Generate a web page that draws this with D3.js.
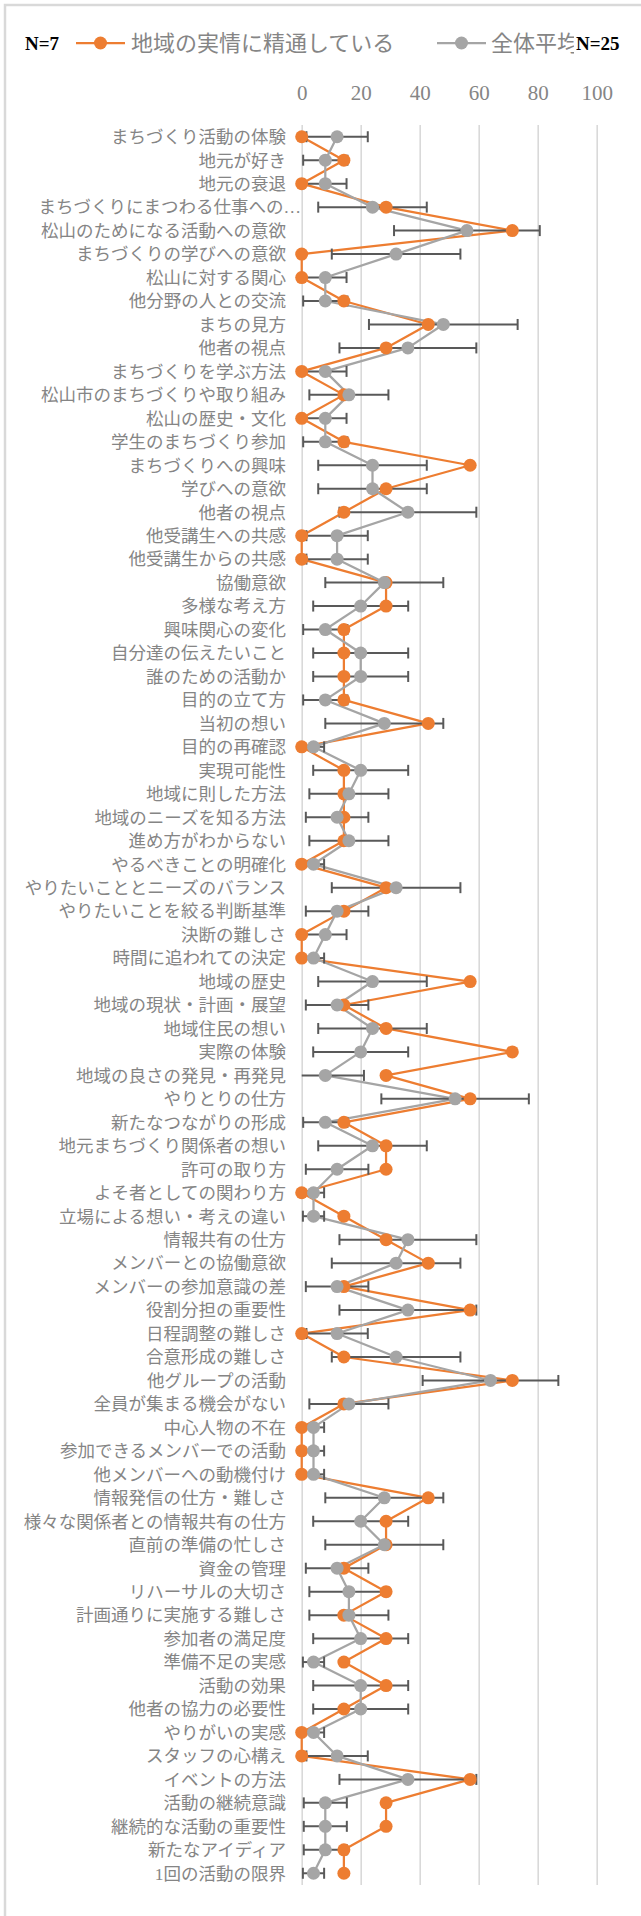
<!DOCTYPE html>
<html lang="ja">
<head>
<meta charset="utf-8">
<script src="https://cdn.jsdelivr.net/npm/d3@7/dist/d3.min.js"></script>
<style>
  body { margin: 0; background: #fff; }
  svg { display: block; }
</style>
</head>
<body>
<svg id="chart" width="641" height="1916"></svg>
<script>
const categories = [
  'まちづくり活動の体験', '地元が好き', '地元の衰退', 'まちづくりにまつわる仕事への…',
  '松山のためになる活動への意欲', 'まちづくりの学びへの意欲', '松山に対する関心', '他分野の人との交流',
  'まちの見方', '他者の視点', 'まちづくりを学ぶ方法', '松山市のまちづくりや取り組み',
  '松山の歴史・文化', '学生のまちづくり参加', 'まちづくりへの興味', '学びへの意欲',
  '他者の視点', '他受講生への共感', '他受講生からの共感', '協働意欲',
  '多様な考え方', '興味関心の変化', '自分達の伝えたいこと', '誰のための活動か',
  '目的の立て方', '当初の想い', '目的の再確認', '実現可能性',
  '地域に則した方法', '地域のニーズを知る方法', '進め方がわからない', 'やるべきことの明確化',
  'やりたいこととニーズのバランス', 'やりたいことを絞る判断基準', '決断の難しさ', '時間に追われての決定',
  '地域の歴史', '地域の現状・計画・展望', '地域住民の想い', '実際の体験',
  '地域の良さの発見・再発見', 'やりとりの仕方', '新たなつながりの形成', '地元まちづくり関係者の想い',
  '許可の取り方', 'よそ者としての関わり方', '立場による想い・考えの違い', '情報共有の仕方',
  'メンバーとの協働意欲', 'メンバーの参加意識の差', '役割分担の重要性', '日程調整の難しさ',
  '合意形成の難しさ', '他グループの活動', '全員が集まる機会がない', '中心人物の不在',
  '参加できるメンバーでの活動', '他メンバーへの動機付け', '情報発信の仕方・難しさ', '様々な関係者との情報共有の仕方',
  '直前の準備の忙しさ', '資金の管理', 'リハーサルの大切さ', '計画通りに実施する難しさ',
  '参加者の満足度', '準備不足の実感', '活動の効果', '他者の協力の必要性',
  'やりがいの実感', 'スタッフの心構え', 'イベントの方法', '活動の継続意識',
  '継続的な活動の重要性', '新たなアイディア', '1回の活動の限界',
];

// 地域の実情に精通している (N=7), percent
const localValues = [
  0, 14.3, 0, 28.6, 71.4, 0, 0, 14.3, 42.9, 28.6,
  0, 14.3, 0, 14.3, 57.1, 28.6, 14.3, 0, 0, 28.6,
  28.6, 14.3, 14.3, 14.3, 14.3, 42.9, 0, 14.3, 14.3, 14.3,
  14.3, 0, 28.6, 14.3, 0, 0, 57.1, 14.3, 28.6, 71.4,
  28.6, 57.1, 14.3, 28.6, 28.6, 0, 14.3, 28.6, 42.9, 14.3,
  57.1, 0, 14.3, 71.4, 14.3, 0, 0, 0, 42.9, 28.6,
  28.6, 14.3, 28.6, 14.3, 28.6, 14.3, 28.6, 14.3, 0, 0,
  57.1, 28.6, 28.6, 14.3, 14.3,
];

// 全体平均 (N=25), percent
const allValues = [
  12, 8, 8, 24, 56, 32, 8, 8, 48, 36,
  8, 16, 8, 8, 24, 24, 36, 12, 12, 28,
  20, 8, 20, 20, 8, 28, 4, 20, 16, 12,
  16, 4, 32, 12, 8, 4, 24, 12, 24, 20,
  8, 52, 8, 24, 12, 4, 4, 36, 32, 12,
  36, 12, 32, 64, 16, 4, 4, 4, 28, 20,
  28, 12, 16, 16, 20, 4, 20, 20, 4, 12,
  36, 8, 8, 8, 4,
];

// error bar half-widths for 全体平均
const allErrors = [
  10.4, 7.5, 7.2, 18.4, 24.7, 21.8, 7.2, 7.5, 25.2, 23.2,
  7.2, 13.4, 7.2, 7.5, 18.4, 18.4, 23.2, 10.4, 10.4, 20,
  16.1, 7.5, 16.1, 16.1, 7.5, 20, 3.6, 16.1, 13.4, 10.6,
  13.4, 3.6, 21.8, 10.6, 7.2, 3.6, 18.4, 10.6, 18.4, 16.1,
  13.1, 25, 7.5, 18.4, 10.6, 3.6, 3.6, 23.2, 21.8, 10.6,
  23.2, 10.4, 21.8, 23, 13.4, 3.6, 3.6, 3.6, 20, 16.1,
  20, 10.6, 13.4, 13.4, 16.1, 3.6, 16.1, 16.1, 3.6, 10.4,
  23.2, 7.3, 7.3, 7.3, 3.6,
];

const tickValues = [0, 20, 40, 60, 80, 100];
const seriesNames = ['地域の実情に精通している', '全体平均'];
const sampleLabels = ['N=7', 'N=25'];

const COLORS = {
  local: '#ED7D31',
  all: '#A5A5A5',
  err: '#595959',
  grid: '#D9D9D9',
  text: '#858585',
};
const PLOT = { left: 301.7, right: 596.7, top: 125, bottom: 1885 };
const FONT = '"Liberation Serif", "Noto Sans CJK JP", serif';
const R = 6.5;

const svg = d3.select('#chart');

// Chart frame (cut off at right and bottom like the original)
svg.append('rect')
  .attr('x', 5).attr('y', 5)
  .attr('width', 700).attr('height', 2000)
  .attr('fill', 'none')
  .attr('stroke', COLORS.grid)
  .attr('stroke-width', 2.5);

const x = d3.scaleLinear().domain([0, 100]).range([PLOT.left, PLOT.right]);
const y = d3.scaleBand()
  .domain(d3.range(categories.length))
  .range([PLOT.top, PLOT.bottom]);
const cy = (i) => y(i) + y.bandwidth() / 2;

// Vertical gridlines
svg.append('g')
  .attr('transform', `translate(0,${PLOT.top})`)
  .call(d3.axisBottom(x).tickValues(tickValues).tickSize(PLOT.bottom - PLOT.top).tickFormat(''))
  .call((g) => g.select('.domain').remove())
  .call((g) => g.selectAll('line').attr('stroke', COLORS.grid).attr('stroke-width', 1.6));

// Top tick labels
svg.append('g')
  .attr('transform', 'translate(0,93)')
  .call(d3.axisTop(x).tickValues(tickValues).tickSize(0).tickPadding(0))
  .call((g) => g.select('.domain').remove())
  .call((g) => g.selectAll('text')
    .attr('y', 0)
    .attr('dy', '0.35em')
    .attr('fill', COLORS.text)
    .style('font-family', FONT)
    .style('font-size', '21px'));

// Category labels
svg.append('g')
  .selectAll('text')
  .data(categories)
  .join('text')
  .attr('x', (d) => (d.endsWith('…') ? 301 : 286))
  .attr('y', (d, i) => cy(i))
  .attr('dy', '0.36em')
  .attr('text-anchor', 'end')
  .attr('fill', COLORS.text)
  .style('font-family', FONT)
  .style('font-size', '17.5px')
  .text((d) => d);

// Series lines
const line = d3.line().x((d) => x(d)).y((d, i) => cy(i));

svg.append('path')
  .datum(localValues)
  .attr('d', line)
  .attr('fill', 'none')
  .attr('stroke', COLORS.local)
  .attr('stroke-width', 2.25)
  .attr('stroke-linejoin', 'round');

svg.append('path')
  .datum(allValues)
  .attr('d', line)
  .attr('fill', 'none')
  .attr('stroke', COLORS.all)
  .attr('stroke-width', 2.25)
  .attr('stroke-linejoin', 'round');

// Error bars for 全体平均 (clipped at the axis minimum, no cap when clipped)
const errGrp = svg.append('g')
  .attr('stroke', COLORS.err)
  .attr('stroke-width', 2);

const bars = allValues.map((v, i) => ({
  lo: v - allErrors[i],
  hi: v + allErrors[i],
  y: cy(i),
}));

errGrp.selectAll('.bar')
  .data(bars)
  .join('line')
  .attr('class', 'bar')
  .attr('x1', (d) => x(Math.max(0, d.lo)))
  .attr('x2', (d) => x(d.hi))
  .attr('y1', (d) => d.y)
  .attr('y2', (d) => d.y);

const caps = bars.flatMap((d) => {
  const out = [{ v: d.hi, y: d.y }];
  if (d.lo >= 0) out.push({ v: d.lo, y: d.y });
  return out;
});

errGrp.selectAll('.cap')
  .data(caps)
  .join('line')
  .attr('class', 'cap')
  .attr('x1', (d) => x(d.v))
  .attr('x2', (d) => x(d.v))
  .attr('y1', (d) => d.y - 5.5)
  .attr('y2', (d) => d.y + 5.5);

// Markers
svg.append('g')
  .selectAll('circle')
  .data(localValues)
  .join('circle')
  .attr('cx', (d) => x(d))
  .attr('cy', (d, i) => cy(i))
  .attr('r', R)
  .attr('fill', COLORS.local);

svg.append('g')
  .selectAll('circle')
  .data(allValues)
  .join('circle')
  .attr('cx', (d) => x(d))
  .attr('cy', (d, i) => cy(i))
  .attr('r', R)
  .attr('fill', COLORS.all);

// Legend
const LEGEND_Y = 43;
const legendItems = [
  { name: seriesNames[0], color: COLORS.local, x1: 76, x2: 125, tx: 131 },
  { name: seriesNames[1], color: COLORS.all, x1: 437, x2: 486, tx: 491 },
];

const legend = svg.append('g');
const items = legend.selectAll('g')
  .data(legendItems)
  .join('g');

items.append('line')
  .attr('x1', (d) => d.x1)
  .attr('x2', (d) => d.x2)
  .attr('y1', LEGEND_Y)
  .attr('y2', LEGEND_Y)
  .attr('stroke', (d) => d.color)
  .attr('stroke-width', 2.25);

items.append('circle')
  .attr('cx', (d) => (d.x1 + d.x2) / 2)
  .attr('cy', LEGEND_Y)
  .attr('r', R)
  .attr('fill', (d) => d.color);

items.append('text')
  .attr('x', (d) => d.tx)
  .attr('y', LEGEND_Y)
  .attr('dy', '0.36em')
  .attr('fill', COLORS.text)
  .style('font-family', FONT)
  .style('font-size', '22px')
  .text((d) => d.name);

// Sample size boxes (the right one sits over the legend text)
svg.append('rect')
  .attr('x', 574).attr('y', 26)
  .attr('width', 60).attr('height', 34)
  .attr('fill', '#fff');

svg.append('g')
  .selectAll('text')
  .data([{ t: sampleLabels[0], x: 25 }, { t: sampleLabels[1], x: 576 }])
  .join('text')
  .attr('x', (d) => d.x)
  .attr('y', LEGEND_Y)
  .attr('dy', '0.35em')
  .attr('fill', '#000')
  .style('font-family', FONT)
  .style('font-size', '19px')
  .style('font-weight', 'bold')
  .text((d) => d.t);
</script>
</body>
</html>
